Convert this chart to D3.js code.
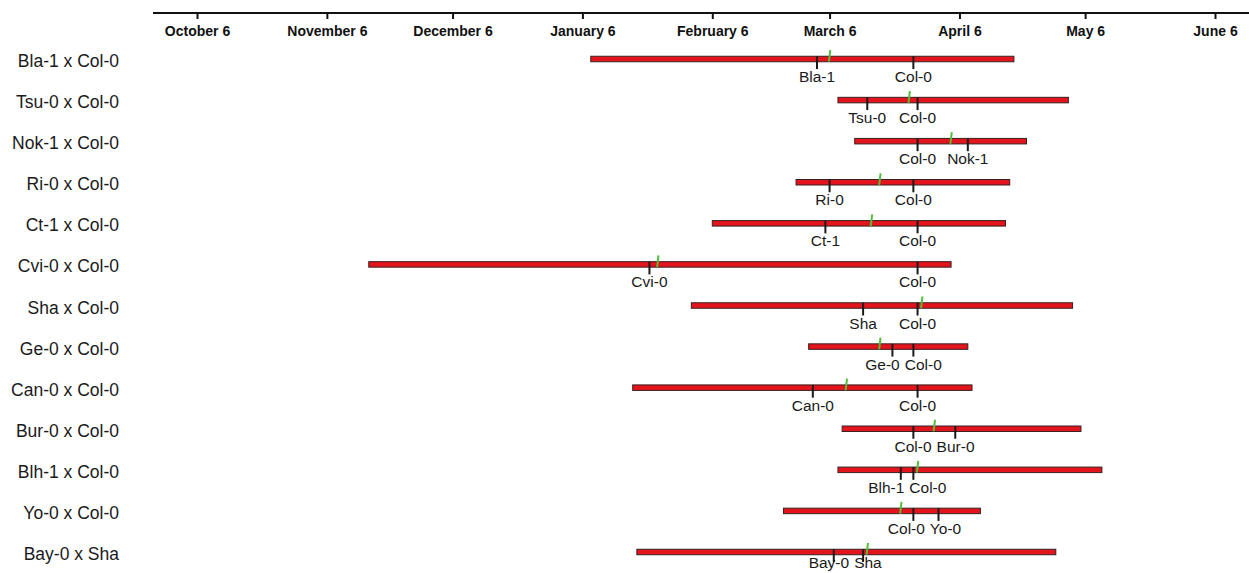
<!DOCTYPE html>
<html>
<head>
<meta charset="utf-8">
<script src="https://cdn.jsdelivr.net/npm/d3@7"></script>
<style>
  html, body { margin: 0; padding: 0; background: #fff; }
  svg { display: block; font-family: "Liberation Sans", Arial, Helvetica, sans-serif; }
</style>
</head>
<body>
<svg id="chart" width="1249" height="573"></svg>
<script>
// Crosses (rows, top to bottom)
const crosses = [
  "Bla-1 x Col-0", "Tsu-0 x Col-0", "Nok-1 x Col-0", "Ri-0 x Col-0",
  "Ct-1 x Col-0", "Cvi-0 x Col-0", "Sha x Col-0", "Ge-0 x Col-0",
  "Can-0 x Col-0", "Bur-0 x Col-0", "Blh-1 x Col-0", "Yo-0 x Col-0",
  "Bay-0 x Sha"
];

// Flowering range of each population (first and last plant)
const rangeStart = [
  "2013-01-08", "2013-03-08", "2013-03-12", "2013-02-26",
  "2013-02-06", "2012-11-16", "2013-02-01", "2013-03-01",
  "2013-01-18", "2013-03-09", "2013-03-08", "2013-02-23",
  "2013-01-19"
];
const rangeEnd = [
  "2013-04-19", "2013-05-02", "2013-04-22", "2013-04-18",
  "2013-04-17", "2013-04-04", "2013-05-03", "2013-04-08",
  "2013-04-09", "2013-05-05", "2013-05-10", "2013-04-11",
  "2013-04-29"
];

// Mean flowering date of the population (green mark)
const meanDate = [
  "2013-03-06", "2013-03-25", "2013-04-04", "2013-03-18",
  "2013-03-16", "2013-01-24", "2013-03-28", "2013-03-18",
  "2013-03-10", "2013-03-31", "2013-03-27", "2013-03-23",
  "2013-03-15"
];

// Parental accessions and their flowering dates (black marks)
const parentNames = [
  ["Bla-1", "Col-0"], ["Tsu-0", "Col-0"], ["Col-0", "Nok-1"], ["Ri-0", "Col-0"],
  ["Ct-1", "Col-0"], ["Cvi-0", "Col-0"], ["Sha", "Col-0"], ["Ge-0", "Col-0"],
  ["Can-0", "Col-0"], ["Col-0", "Bur-0"], ["Blh-1", "Col-0"], ["Col-0", "Yo-0"],
  ["Bay-0", "Sha"]
];
const parentDates = [
  ["2013-03-03", "2013-03-26"], ["2013-03-15", "2013-03-27"], ["2013-03-27", "2013-04-08"], ["2013-03-06", "2013-03-26"],
  ["2013-03-05", "2013-03-27"], ["2013-01-22", "2013-03-27"], ["2013-03-14", "2013-03-27"], ["2013-03-21", "2013-03-26"],
  ["2013-03-02", "2013-03-27"], ["2013-03-26", "2013-04-05"], ["2013-03-23", "2013-03-26"], ["2013-03-26", "2013-04-01"],
  ["2013-03-07", "2013-03-14"]
];

// Time axis
const tickDates = [
  "2012-10-06", "2012-11-06", "2012-12-06", "2013-01-06", "2013-02-06",
  "2013-03-06", "2013-04-06", "2013-05-06", "2013-06-06"
];
const tickLabels = [
  "October 6", "November 6", "December 6", "January 6", "February 6",
  "March 6", "April 6", "May 6", "June 6"
];

const parse = d3.timeParse("%Y-%m-%d");
const W = 1249, H = 573;
const svg = d3.select("#chart");

const x = d3.scaleTime()
  .domain([parse("2012-10-06"), parse("2013-06-06")])
  .range([197, 1215]);

const y = d3.scalePoint()
  .domain(crosses)
  .range([59, 552]);

// ---- top axis ----
const axisY = 13;
svg.append("line")
  .attr("x1", 153).attr("x2", W)
  .attr("y1", axisY).attr("y2", axisY)
  .attr("stroke", "#111").attr("stroke-width", 2);

const axis = d3.axisBottom(x)
  .tickValues(tickDates.map(parse))
  .tickSize(6)
  .tickFormat((d, i) => tickLabels[i]);

const gAxis = svg.append("g")
  .attr("transform", `translate(0,${axisY})`)
  .call(axis);
gAxis.select(".domain").remove();
gAxis.selectAll(".tick line").attr("stroke", "#111").attr("stroke-width", 2);
gAxis.selectAll(".tick text")
  .attr("y", 13)
  .attr("fill", "#111")
  .style("font-size", "14px")
  .style("font-weight", "bold")
  .style("font-family", "'Liberation Sans', Arial, sans-serif");

// ---- row labels ----
svg.append("g").selectAll("text")
  .data(crosses)
  .join("text")
  .attr("x", 119)
  .attr("y", d => y(d) + 8)
  .attr("text-anchor", "end")
  .attr("fill", "#1a1a1a")
  .style("font-size", "17.5px")
  .text(d => d);

// ---- rows ----
const rows = crosses.map((c, i) => ({
  cross: c,
  start: parse(rangeStart[i]),
  end: parse(rangeEnd[i]),
  mean: parse(meanDate[i]),
  parents: parentNames[i].map((n, j) => ({ name: n, date: parse(parentDates[i][j]) }))
}));

const gRows = svg.append("g");
const barH = 5.5;

const row = gRows.selectAll("g.row")
  .data(rows)
  .join("g")
  .attr("class", "row")
  .attr("transform", d => `translate(0,${y(d.cross)})`);

row.append("rect")
  .attr("x", d => x(d.start))
  .attr("y", -barH / 2)
  .attr("width", d => x(d.end) - x(d.start))
  .attr("height", barH)
  .attr("fill", "#e3141b")
  .attr("stroke", "#3a2020")
  .attr("stroke-width", 1);

// parental marks below the bar
row.selectAll("line.parent")
  .data(d => d.parents)
  .join("line")
  .attr("class", "parent")
  .attr("x1", d => x(d.date)).attr("x2", d => x(d.date))
  .attr("y1", -barH / 2).attr("y2", 10)
  .attr("stroke", "#1a1a1a")
  .attr("stroke-width", 2);

// population mean mark above the bar
row.append("line")
  .attr("x1", d => x(d.mean) - 0.7).attr("x2", d => x(d.mean) + 0.7)
  .attr("y1", 2.7).attr("y2", -9)
  .attr("stroke", "#52be3a")
  .attr("stroke-width", 2);

// parent name labels, pushed apart when they would collide
row.each(function (d) {
  const g = d3.select(this);
  const rowY = y(d.cross);
  const baseline = Math.min(23, H - 5 - rowY);
  const labels = d.parents.map(p => {
    const t = g.append("text")
      .attr("y", baseline)
      .attr("text-anchor", "middle")
      .attr("fill", "#1a1a1a")
      .style("font-size", "15.5px")
      .text(p.name);
    return { t, cx: x(p.date), w: t.node().getComputedTextLength() };
  }).sort((a, b) => a.cx - b.cx);
  const gap = 5;
  for (let k = 1; k < labels.length; k++) {
    const a = labels[k - 1], b = labels[k];
    const need = (a.w + b.w) / 2 + gap;
    const have = b.cx - a.cx;
    if (have < need) {
      const shift = (need - have) / 2;
      a.cx -= shift;
      b.cx += shift;
    }
  }
  labels.forEach(l => l.t.attr("x", l.cx));
});
</script>
</body>
</html>
